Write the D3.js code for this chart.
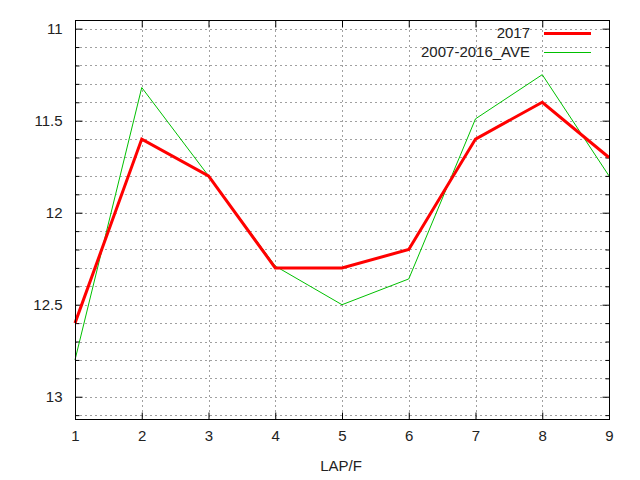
<!DOCTYPE html>
<html>
<head>
<meta charset="utf-8">
<script src="https://cdn.jsdelivr.net/npm/d3@7/dist/d3.min.js"></script>
<style>
html,body{margin:0;padding:0;background:#fff;}
svg{display:block;font-family:"Liberation Sans",Arial,sans-serif;}
</style>
</head>
<body>
<svg id="chart" width="640" height="480"></svg>
<script>
const laps = [1, 2, 3, 4, 5, 6, 7, 8, 9];
const series2017 = [12.6, 11.6, 11.8, 12.3, 12.3, 12.2, 11.6, 11.4, 11.7];
const seriesAve = [12.8, 11.32, 11.8, 12.29, 12.5, 12.36, 11.49, 11.25, 11.8];
const seriesNames = ["2017", "2007-2016_AVE"];
const yMajorTicks = [11, 11.5, 12, 12.5, 13];
const yMinorTicks = [11, 11.1, 11.2, 11.3, 11.4, 11.5, 11.6, 11.7, 11.8, 11.9, 12, 12.1, 12.2, 12.3, 12.4, 12.5, 12.6, 12.7, 12.8, 12.9, 13, 13.1];
const xTicks = [1, 2, 3, 4, 5, 6, 7, 8, 9];
const xLabel = "LAP/F";

const svg = d3.select("#chart");
const L = 75, R = 609, T = 20, B = 419;
const x = d3.scaleLinear().domain([1, 9]).range([L, R]);
const y = d3.scaleLinear().domain([10.953, 13.121]).range([T, B]);

// grid
const grid = svg.append("g").attr("stroke", "#a0a0a0").attr("stroke-width", 1).attr("stroke-dasharray", "2,3");
grid.selectAll("line.gy").data(yMinorTicks).join("line")
  .attr("x1", L).attr("x2", R)
  .attr("y1", d => Math.round(y(d)) + 0.5).attr("y2", d => Math.round(y(d)) + 0.5);
grid.selectAll("line.gx").data(xTicks.slice(1, -1)).join("line")
  .attr("y1", T).attr("y2", B)
  .attr("x1", d => Math.round(x(d)) + 0.5).attr("x2", d => Math.round(x(d)) + 0.5);

// axes
function styleAxis(g) {
  g.select(".domain").remove();
  g.selectAll(".tick line").attr("stroke", "#000");
  g.selectAll(".tick text").attr("fill", "#222").style("font-size", "15px")
    .style("font-family", '"Liberation Sans",Arial,sans-serif');
}
svg.append("g").attr("transform", `translate(${L + 0.5},0)`)
  .call(d3.axisLeft(y).tickValues(yMajorTicks).tickFormat(d3.format("")).tickSize(-7).tickPadding(13))
  .call(styleAxis);
svg.append("g").attr("transform", `translate(${L + 0.5},0)`)
  .call(d3.axisLeft(y).tickValues(yMinorTicks.filter(v => !yMajorTicks.includes(v))).tickFormat("").tickSize(-4))
  .call(styleAxis);
svg.append("g").attr("transform", `translate(${R + 0.5},0)`)
  .call(d3.axisRight(y).tickValues(yMajorTicks).tickFormat("").tickSize(-7))
  .call(styleAxis);
svg.append("g").attr("transform", `translate(${R + 0.5},0)`)
  .call(d3.axisRight(y).tickValues(yMinorTicks.filter(v => !yMajorTicks.includes(v))).tickFormat("").tickSize(-4))
  .call(styleAxis);
svg.append("g").attr("transform", `translate(0,${B + 0.5})`)
  .call(d3.axisBottom(x).tickValues(xTicks).tickFormat(d3.format("d")).tickSize(-7).tickPadding(11))
  .call(styleAxis);
svg.append("g").attr("transform", `translate(0,${T + 0.5})`)
  .call(d3.axisTop(x).tickValues(xTicks).tickFormat("").tickSize(-7))
  .call(styleAxis);

// lines
const line = d3.line().x((d, i) => x(laps[i])).y(d => y(d));
svg.append("path").datum(seriesAve).attr("d", line)
  .attr("fill", "none").attr("stroke", "#00c000").attr("stroke-width", 1);
svg.append("path").datum(series2017).attr("d", line)
  .attr("fill", "none").attr("stroke", "#ff0000").attr("stroke-width", 3).attr("stroke-linejoin", "miter");

// border
svg.append("rect").attr("x", L + 0.5).attr("y", T + 0.5).attr("width", R - L).attr("height", B - T)
  .attr("fill", "none").attr("stroke", "#000").attr("stroke-width", 1);

// legend
const legend = [
  { name: seriesNames[0], color: "#ff0000", w: 3, yy: 33 },
  { name: seriesNames[1], color: "#00c000", w: 1, yy: 52 }
];
legend.forEach(d => {
  svg.append("text").attr("x", 530).attr("y", d.yy).attr("dy", "0.35em")
    .attr("text-anchor", "end").attr("fill", "#222").style("font-size", "15px").text(d.name);
  svg.append("line").attr("x1", 544).attr("x2", 591).attr("y1", d.yy + 0.5).attr("y2", d.yy + 0.5)
    .attr("stroke", d.color).attr("stroke-width", d.w);
});

// x label
svg.append("text").attr("x", 341).attr("y", 466).attr("dy", "0.35em").attr("text-anchor", "middle")
  .attr("fill", "#222").style("font-size", "15px").text(xLabel);
</script>
</body>
</html>
